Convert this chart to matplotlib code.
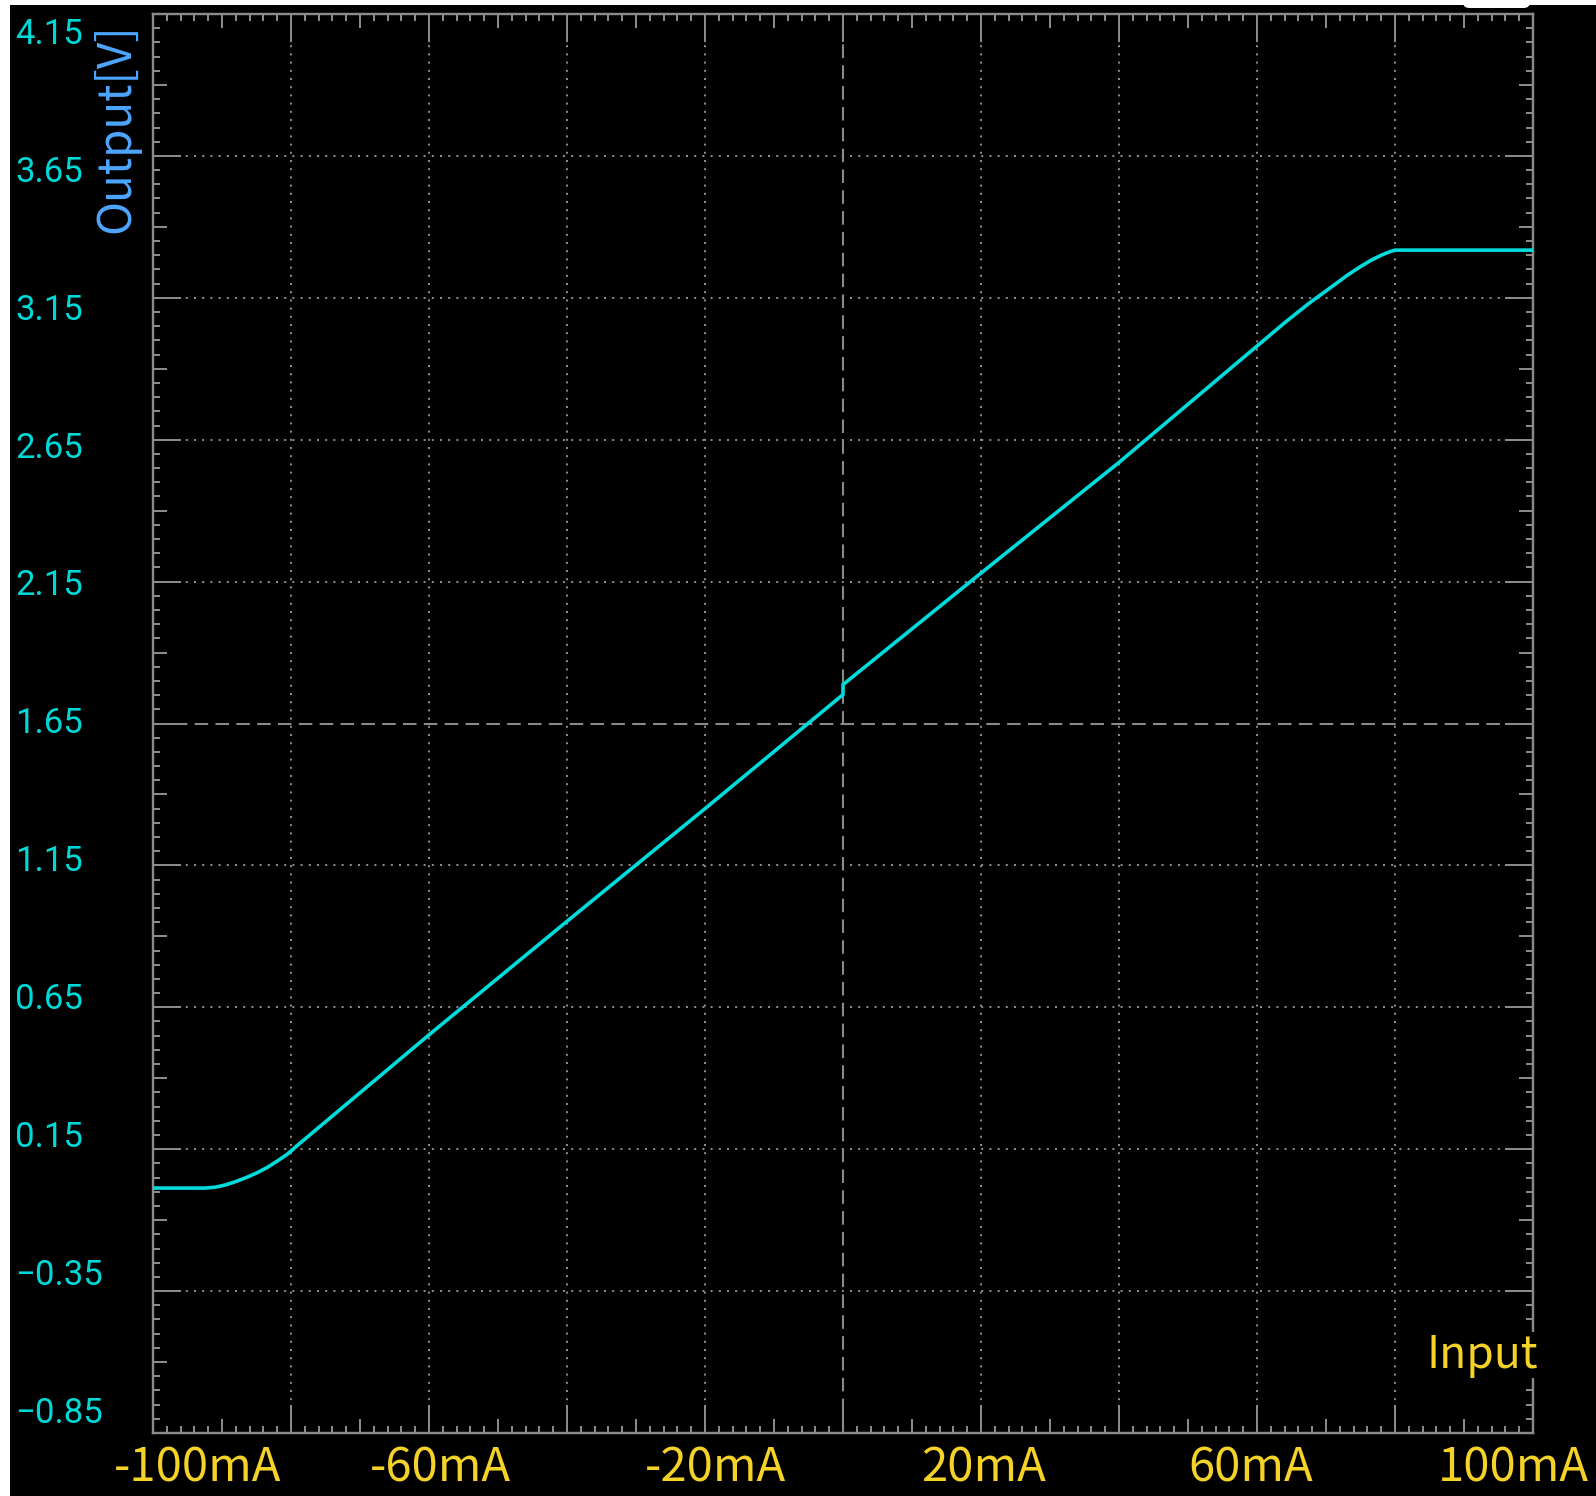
#!/usr/bin/env python3
"""Output voltage vs input current, oscilloscope style."""

import matplotlib
matplotlib.use("Agg")
import matplotlib.pyplot as plt
from matplotlib.patches import Rectangle, FancyBboxPatch

# ---------------------------------------------------------------------------
# Data
# ---------------------------------------------------------------------------
input_ma = [-100, -92.5, -91.0, -89.5, -88.0, -86.5, -85.0, -83.5, -82.0, -80.5,
            -79.0, -60, -40, -20, 0, 0, 20, 40, 60, 64.0, 67.5, 71.0, 73.0,
            75.0, 76.5, 78.0, 79.2, 80.0, 100]
output_v = [0.013, 0.013, 0.016, 0.024, 0.036, 0.050, 0.066, 0.085, 0.108, 0.133,
            0.165, 0.553, 0.953, 1.35, 1.752, 1.787, 2.18, 2.57, 2.98, 3.062,
            3.130, 3.192, 3.228, 3.260, 3.282, 3.300, 3.312, 3.318, 3.318]

# axis scale
x_grid = [-100, -80, -60, -40, -20, 0, 20, 40, 60, 80, 100]
x_mid = [-90, -70, -50, -30, -10, 10, 30, 50, 70, 90]
x_labels = ["-100mA", "-60mA", "-20mA", "20mA", "60mA", "100mA"]
y_grid = [-0.85, -0.35, 0.15, 0.65, 1.15, 1.65, 2.15, 2.65, 3.15, 3.65, 4.15]
y_mid = [-0.6, -0.1, 0.4, 0.9, 1.4, 1.9, 2.4, 2.9, 3.4, 3.9]
y_labels = ["4.15", "3.65", "3.15", "2.65", "2.15", "1.65", "1.15", "0.65",
            "0.15", "\u22120.35", "\u22120.85"]
X_CENTER = 0
Y_CENTER = 1.65

# where the screen software puts the x labels (axes fraction)
X_LABEL_POS = [0.0320, 0.2085, 0.4078, 0.6020, 0.7955, 0.9855]

GREY = "#8a8a8a"
TRACE = "#00DCDC"
CYAN_TXT = "#00D8D8"
BLUE_TXT = "#4DA6FF"
YELLOW = "#F5D228"

W, H = 1596, 1496
fig = plt.figure(figsize=(W / 100, H / 100), dpi=100, facecolor="black")
ax = fig.add_axes([153 / W, 1 - 1433 / H, 1380 / W, 1419 / H])
ax.set_facecolor("black")

# white border strips of the screenshot
fig.patches.append(Rectangle((0, 0), 10 / W, 1, transform=fig.transFigure,
                             facecolor="white", edgecolor="none", zorder=0))
fig.patches.append(Rectangle((0, 1 - 5 / H), 1, 5 / H, transform=fig.transFigure,
                             facecolor="white", edgecolor="none", zorder=0))
fig.patches.append(FancyBboxPatch((1463 / W, 1 - 8 / H), 67 / W, 10 / H,
                                  boxstyle="round,pad=0,rounding_size=0.004",
                                  transform=fig.transFigure, facecolor="white",
                                  edgecolor="none", zorder=0))

# grid
for xv in x_grid:
    if xv == X_CENTER:
        ax.axvline(xv, color=GREY, lw=1.5, ls=(0, (6.5, 3.5)), zorder=1)
    else:
        ax.axvline(xv, color=GREY, lw=1.44, ls=(0, (1, 3.1)), zorder=1)
for yv in y_grid:
    if abs(yv - Y_CENTER) < 1e-9:
        ax.axhline(yv, color=GREY, lw=1.5, ls=(0, (6.5, 3.5)), zorder=1)
    else:
        ax.axhline(yv, color=GREY, lw=1.44, ls=(0, (1, 3.1)), zorder=1)

ax.plot(input_ma, output_v, color=TRACE, lw=2.6, zorder=3)

ax.set_xlim(-100, 100)
ax.set_ylim(-0.85, 4.15)

for s in ax.spines.values():
    s.set_color(GREY)
    s.set_linewidth(1.6)

ax.set_xticks(x_grid)
ax.set_yticks(y_grid)
ax.set_xticks([-100 + 2 * i for i in range(101)], minor=True)
ax.set_yticks([-0.85 + 0.05 * i for i in range(101)], minor=True)
ax.tick_params(which="major", direction="in", length=20, width=1.44, color=GREY,
               top=True, right=True, labelbottom=False, labelleft=False)
ax.tick_params(which="minor", direction="in", length=5, width=1.44, color=GREY,
               top=True, right=True)

# half-division ticks
for loc in ("bottom", "top"):
    sec = ax.secondary_xaxis(loc)
    sec.set_xticks(x_mid)
    sec.set_xticklabels([])
    sec.tick_params(direction="in", length=10, width=1.44, color=GREY)
    sec.spines[loc].set_color(GREY)
    sec.spines[loc].set_linewidth(1.6)
for loc in ("left", "right"):
    sec = ax.secondary_yaxis(loc)
    sec.set_yticks(y_mid)
    sec.set_yticklabels([])
    sec.tick_params(direction="in", length=10, width=1.44, color=GREY)
    sec.spines[loc].set_color(GREY)
    sec.spines[loc].set_linewidth(1.6)

# y labels (cyan, evenly spread just off the grid lines)
y_top, y_bot = 0.9859, 0.0134
for i, lab in enumerate(y_labels):
    yf = y_top - i * (y_top - y_bot) / (len(y_labels) - 1)
    ax.text(-0.1, yf, lab, transform=ax.transAxes, ha="left", va="center",
            color=CYAN_TXT, fontsize=25, family="Roboto", clip_on=False)

# x labels (yellow)
for xf, lab in zip(X_LABEL_POS, x_labels):
    ax.text(xf, -0.0345, lab, transform=ax.transAxes, ha="center", va="baseline",
            color=YELLOW, fontsize=34, family="Noto Sans CJK JP", clip_on=False)

ax.text(1.0036, 0.0458, "Input", transform=ax.transAxes, ha="right",
        va="baseline", color=YELLOW, fontsize=32, family="Noto Sans CJK JP",
        bbox=dict(boxstyle="square,pad=0", facecolor="black", edgecolor="none"),
        zorder=5, clip_on=False)

ax.text(-0.0268, 0.9197, "Output[V]", transform=ax.transAxes, rotation=90,
        ha="center", va="center", color=BLUE_TXT, fontsize=33,
        family="Noto Sans CJK JP", clip_on=False)

fig.savefig("out.png", dpi=100, facecolor="black")
